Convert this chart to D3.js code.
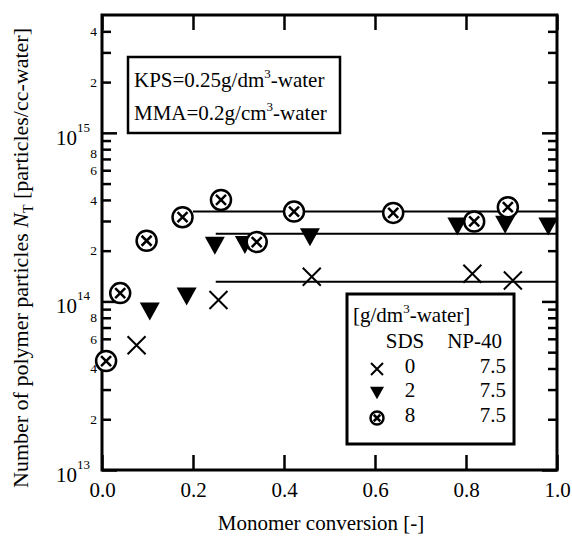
<!DOCTYPE html>
<html>
<head>
<meta charset="utf-8">
<script src="https://cdn.jsdelivr.net/npm/d3@7"></script>
<style>
  html, body { margin: 0; padding: 0; background: #fff; }
  svg, svg text { font-family: "Liberation Serif", "Times New Roman", Times, "DejaVu Serif", serif; }
</style>
</head>
<body>
<svg id="chart" width="572" height="537"></svg>
<script>
// ---- data ----
const sds0X = [0.076, 0.256, 0.461, 0.814, 0.903];
const sds0Y = [5.5e13, 1.02e14, 1.40e14, 1.46e14, 1.33e14];
const sds2X = [0.105, 0.186, 0.248, 0.314, 0.457, 0.781, 0.886, 0.981];
const sds2Y = [8.7e13, 1.07e14, 2.14e14, 2.16e14, 2.40e14, 2.78e14, 2.85e14, 2.78e14];
const sds8X = [0.009, 0.040, 0.098, 0.177, 0.2615, 0.340, 0.422, 0.640, 0.818, 0.892];
const sds8Y = [4.43e13, 1.12e14, 2.29e14, 3.16e14, 4.0e14, 2.25e14, 3.41e14, 3.35e14, 2.98e14, 3.62e14];
// plateau lines: start conversion, level
const lineStart = [0.2, 0.25, 0.25];
const lineLevel = [3.41e14, 2.52e14, 1.31e14];
const xTicks = [0, 0.2, 0.4, 0.6, 0.8, 1.0];
const yMajor = [1e13, 1e14, 1e15];
const yMajorExp = ["13", "14", "15"];
const yMinorLabelVals = [2e13, 4e13, 6e13, 8e13, 2e14, 4e14, 6e14, 8e14, 2e15, 4e15];
const yMinorLabels = ["2", "4", "6", "8", "2", "4", "6", "8", "2", "4"];
const legendSDS = ["0", "2", "8"];
const legendNP = ["7.5", "7.5", "7.5"];

// ---- layout ----
const FONT = '"Liberation Serif", "Times New Roman", Times, "DejaVu Serif", serif';
const svg = d3.select("#chart");
const L = 102, R = 557, T = 15, B = 470;
const x = d3.scaleLinear().domain([0, 1]).range([L, R]);
const y = d3.scaleLog().domain([1e13, 5e15]).range([B, T]);

const yMinor = [];
[1e13, 1e14, 1e15].forEach(d => { for (let k = 2; k <= 9; k++) { const v = k * d; if (v < 5e15) yMinor.push(v); } });

function styleAxis(g) {
  g.attr("font-family", FONT);
  g.select(".domain").remove();
  g.selectAll(".tick line").attr("stroke", "#000").attr("stroke-width", 2.5);
}
svg.append("g").attr("transform", `translate(0,${B})`)
  .call(d3.axisBottom(x).tickValues(xTicks).tickSize(-15).tickPadding(12).tickFormat(d3.format(".1f")))
  .call(styleAxis)
  .call(g => g.selectAll("text").attr("font-size", 21).attr("fill", "#000"));
svg.append("g").attr("transform", `translate(0,${T})`)
  .call(d3.axisTop(x).tickValues(xTicks).tickSize(-15).tickFormat(""))
  .call(styleAxis);
svg.append("g").attr("transform", `translate(${L},0)`)
  .call(d3.axisLeft(y).tickValues(yMajor).tickSize(-15).tickFormat(""))
  .call(styleAxis);
svg.append("g").attr("transform", `translate(${L},0)`)
  .call(d3.axisLeft(y).tickValues(yMinor).tickSize(-9).tickFormat(""))
  .call(styleAxis);
svg.append("g").attr("transform", `translate(${R},0)`)
  .call(d3.axisRight(y).tickValues(yMajor).tickSize(-15).tickFormat(""))
  .call(styleAxis);
svg.append("g").attr("transform", `translate(${R},0)`)
  .call(d3.axisRight(y).tickValues(yMinor).tickSize(-9).tickFormat(""))
  .call(styleAxis);

const txt = svg.append("g").attr("font-family", FONT).attr("fill", "#000");

// minor labels (the "8" just under 10^15 is nudged slightly down, as in the original)
txt.append("g").selectAll("text").data(yMinorLabelVals).join("text")
  .attr("x", L - 5).attr("y", d => y(d) + (d === 8e14 ? 4 : 0)).attr("dy", "0.35em")
  .attr("text-anchor", "end").attr("font-size", 13.5)
  .text((d, i) => yMinorLabels[i]);
// major labels 10^n
const maj = txt.append("g").selectAll("text").data(yMajor).join("text")
  .attr("x", L - 12).attr("y", d => y(d) + 12)
  .attr("text-anchor", "end").attr("font-size", 21);
maj.append("tspan").text("10");
maj.append("tspan").attr("font-size", 13).attr("dy", -13).text((d, i) => yMajorExp[i]);

// frame
svg.append("rect").attr("x", L).attr("y", T).attr("width", R - L).attr("height", B - T)
  .attr("fill", "none").attr("stroke", "#000").attr("stroke-width", 3);

// plateau lines
svg.append("g").selectAll("line").data(lineLevel).join("line")
  .attr("x1", (d, i) => x(lineStart[i])).attr("x2", x(1))
  .attr("y1", d => y(d)).attr("y2", d => y(d))
  .attr("stroke", "#000").attr("stroke-width", 2);

// markers
function cross(g, s) {
  g.append("path").attr("d", `M${-s},${-s}L${s},${s}M${-s},${s}L${s},${-s}`)
    .attr("stroke", "#000").attr("stroke-width", 2).attr("fill", "none");
}
function tri(g, s) {
  g.append("path").attr("d", `M${-s},${-s * 0.9}L${s},${-s * 0.9}L0,${s * 0.9}Z`).attr("fill", "#000");
}
function circX(g, s) {
  g.append("circle").attr("r", s).attr("fill", "#fff").attr("stroke", "#000").attr("stroke-width", 2.5);
  const c = s * 0.5;
  g.append("path").attr("d", `M${-c},${-c}L${c},${c}M${-c},${c}L${c},${-c}`)
    .attr("stroke", "#000").attr("stroke-width", 2.5);
}
const mk = svg.append("g");
sds0X.forEach((v, i) => cross(mk.append("g").attr("transform", `translate(${x(v)},${y(sds0Y[i])})`), 9));
sds2X.forEach((v, i) => tri(mk.append("g").attr("transform", `translate(${x(v)},${y(sds2Y[i])})`), 10));
sds8X.forEach((v, i) => circX(mk.append("g").attr("transform", `translate(${x(v)},${y(sds8Y[i])})`), 10));

// condition box
const cb = svg.append("g").attr("font-family", FONT);
cb.append("rect").attr("x", 128).attr("y", 57).attr("width", 212).attr("height", 76)
  .attr("fill", "#fff").attr("stroke", "#000").attr("stroke-width", 2.5);
const c1 = cb.append("text").attr("x", 134).attr("y", 87).attr("font-size", 21);
c1.append("tspan").text("KPS=0.25g/dm");
c1.append("tspan").attr("font-size", 13).attr("dy", -9).text("3");
c1.append("tspan").attr("dy", 9).text("-water");
const c2 = cb.append("text").attr("x", 134).attr("y", 120).attr("font-size", 21);
c2.append("tspan").text("MMA=0.2g/cm");
c2.append("tspan").attr("font-size", 13).attr("dy", -9).text("3");
c2.append("tspan").attr("dy", 9).text("-water");

// legend
const lg = svg.append("g").attr("font-family", FONT);
lg.append("rect").attr("x", 347).attr("y", 294).attr("width", 167).attr("height", 150)
  .attr("fill", "#fff").attr("stroke", "#000").attr("stroke-width", 3);
const lt = lg.append("text").attr("x", 353).attr("y", 322).attr("font-size", 21);
lt.append("tspan").text("[g/dm");
lt.append("tspan").attr("font-size", 13).attr("dy", -9).text("3");
lt.append("tspan").attr("dy", 9).text("-water]");
lg.append("text").attr("x", 405).attr("y", 348).attr("font-size", 21).attr("text-anchor", "middle").text("SDS");
lg.append("text").attr("x", 502).attr("y", 348).attr("font-size", 21).attr("text-anchor", "end").text("NP-40");
const rowY = [373, 397, 422];
const mfun = [cross, tri, circX];
const msz = [6, 7, 6.5];
legendSDS.forEach((s, i) => {
  mfun[i](lg.append("g").attr("transform", `translate(377,${rowY[i] - 4})`), msz[i]);
  lg.append("text").attr("x", 410).attr("y", rowY[i]).attr("font-size", 21).attr("text-anchor", "middle").text(s);
  lg.append("text").attr("x", 506).attr("y", rowY[i]).attr("font-size", 21).attr("text-anchor", "end").text(legendNP[i]);
});

// axis titles
txt.append("text").attr("x", 321).attr("y", 530).attr("font-size", 21).attr("text-anchor", "middle")
  .text("Monomer conversion [-]");
const yl = txt.append("text").attr("transform", "translate(28,258) rotate(-90)")
  .attr("font-size", 22).attr("text-anchor", "middle");
yl.append("tspan").text("Number of polymer particles ");
yl.append("tspan").attr("font-style", "italic").text("N");
yl.append("tspan").attr("font-size", 14).attr("dy", 5).text("T");
yl.append("tspan").attr("dy", -5).text(" [particles/cc-water]");
</script>
</body>
</html>
